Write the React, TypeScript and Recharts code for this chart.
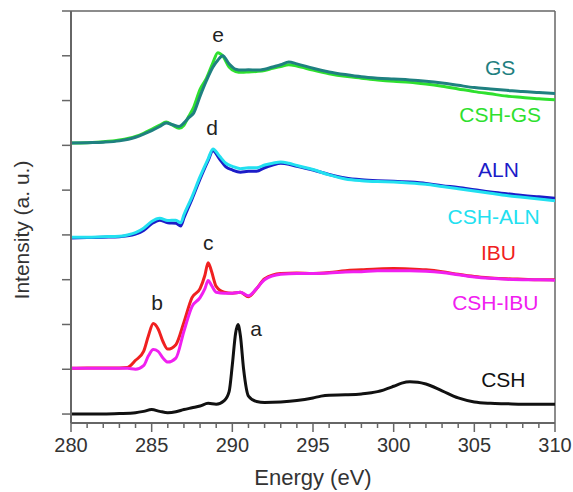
import { LineChart, Line, XAxis, YAxis, ReferenceLine, ReferenceDot } from "recharts";

// CSH (black)
const energyCsh = [280, 281, 282, 283, 284, 284.5, 285, 285.5, 286, 286.5, 287, 287.5, 288, 288.5, 289, 289.5, 289.8, 290, 290.2, 290.35, 290.5, 290.7, 291, 291.5, 292, 293, 294, 295, 295.5, 296, 297, 298, 299, 300, 300.5, 301, 301.5, 302, 303, 304, 305, 306, 307, 308, 309, 310];
const csh = [0, 0, 0, 0.01, 0.03, 0.06, 0.1, 0.06, 0.03, 0.05, 0.1, 0.14, 0.18, 0.24, 0.22, 0.3, 0.5, 1.1, 1.8, 2.0, 1.75, 1.0, 0.4, 0.28, 0.26, 0.27, 0.3, 0.36, 0.4, 0.42, 0.43, 0.45, 0.5, 0.62, 0.69, 0.72, 0.71, 0.67, 0.52, 0.36, 0.27, 0.24, 0.23, 0.22, 0.22, 0.22];

// IBU / CSH-IBU
const energyIbu = [280, 281, 282, 283, 283.5, 284, 284.5, 284.8, 285.1, 285.4, 285.7, 286, 286.5, 287, 287.5, 288, 288.3, 288.5, 288.7, 289, 289.5, 290, 290.5, 291, 291.5, 292, 293, 294, 295, 296, 297, 298, 299, 300, 301, 302, 303, 304, 305, 306, 307, 308, 309, 310];
const ibu = [1.02, 1.03, 1.03, 1.03, 1.04, 1.2, 1.4, 1.75, 2.02, 1.9, 1.62, 1.45, 1.55, 2.05, 2.6, 2.8, 3.1, 3.38, 3.2, 2.85, 2.72, 2.7, 2.72, 2.62, 2.8, 3.02, 3.14, 3.15, 3.14, 3.16, 3.2, 3.22, 3.24, 3.25, 3.24, 3.22, 3.18, 3.12, 3.07, 3.04, 3.02, 3.01, 3.0, 3.0];
const cshIbu = [1.02, 1.02, 1.02, 1.02, 1.02, 1.0, 1.08, 1.3, 1.44, 1.4, 1.25, 1.16, 1.25, 1.85, 2.4, 2.6, 2.8, 2.98, 2.88, 2.72, 2.7, 2.7, 2.72, 2.64, 2.8, 3.0, 3.12, 3.14, 3.14, 3.15, 3.17, 3.18, 3.2, 3.2, 3.2, 3.19, 3.16, 3.11, 3.06, 3.03, 3.01, 3.0, 3.0, 2.99];

// ALN / CSH-ALN
const energyAln = [280, 281, 282, 283, 283.5, 284, 284.5, 285, 285.5, 286, 286.5, 286.8, 287, 287.5, 288, 288.5, 288.8, 289.2, 289.6, 290, 290.5, 291, 291.5, 292, 292.5, 293, 293.5, 294, 295, 296, 297, 298, 299, 300, 301, 302, 303, 304, 305, 306, 307, 308, 309, 310];
const aln = [3.93, 3.94, 3.95, 3.96, 3.98, 4.02, 4.1, 4.25, 4.33, 4.27, 4.26, 4.2, 4.38, 4.8, 5.25, 5.66, 5.88, 5.7, 5.52, 5.45, 5.4, 5.42, 5.42, 5.5, 5.56, 5.6, 5.58, 5.53, 5.45, 5.35, 5.27, 5.23, 5.21, 5.2, 5.18, 5.15, 5.1, 5.06, 5.01, 4.96, 4.92, 4.88, 4.85, 4.82];
const cshAln = [3.95, 3.95, 3.96, 3.97, 4.0, 4.05, 4.15, 4.3, 4.37, 4.32, 4.33, 4.27, 4.45, 4.85, 5.3, 5.7, 5.92, 5.76, 5.6, 5.53, 5.48, 5.5, 5.5, 5.56, 5.6, 5.63, 5.6, 5.55, 5.46, 5.34, 5.25, 5.21, 5.19, 5.18, 5.16, 5.13, 5.08, 5.03, 4.98, 4.93, 4.88, 4.84, 4.8, 4.76];

// GS / CSH-GS
const energyGs = [280, 281, 282, 283, 284, 284.5, 285, 285.5, 285.9, 286.3, 286.7, 287, 287.3, 287.6, 288, 288.4, 288.8, 289.1, 289.4, 289.8, 290.2, 290.6, 291, 291.5, 292, 292.5, 293, 293.5, 294, 295, 296, 297, 298, 299, 300, 301, 302, 303, 304, 305, 306, 307, 308, 309, 310];
const gs = [6.05, 6.06, 6.07, 6.1, 6.18, 6.25, 6.33, 6.42, 6.5, 6.46, 6.42, 6.5, 6.62, 6.72, 7.1, 7.45, 7.75, 7.9, 8.0, 7.82, 7.7, 7.68, 7.69, 7.68, 7.7, 7.75, 7.8, 7.86, 7.82, 7.72, 7.64, 7.58, 7.53, 7.5, 7.48, 7.46, 7.43, 7.39, 7.34, 7.29, 7.26, 7.23, 7.2, 7.18, 7.16];
const cshGs = [6.05, 6.06, 6.08, 6.12, 6.2, 6.27, 6.36, 6.45, 6.52, 6.45, 6.38, 6.45, 6.65, 6.85, 7.25, 7.5, 7.85, 8.07, 8.0, 7.75, 7.65, 7.63, 7.64, 7.65, 7.67, 7.72, 7.76, 7.8, 7.77, 7.68, 7.6, 7.54, 7.5, 7.46, 7.43, 7.41, 7.37, 7.32, 7.26, 7.2, 7.15, 7.1, 7.07, 7.04, 7.02];

const xTicks = [280, 281, 282, 283, 284, 285, 286, 287, 288, 289, 290, 291, 292, 293, 294, 295, 296, 297, 298, 299, 300, 301, 302, 303, 304, 305, 306, 307, 308, 309, 310];
const yTicks = [0, 1, 2, 3, 4, 5, 6, 7, 8, 9];

// peak letters: [text, energy, intensity]
const peakLabels: [string, number, number][] = [
  ["a", 291.47, 1.9],
  ["b", 285.33, 2.48],
  ["c", 288.5, 3.84],
  ["d", 288.74, 6.39],
  ["e", 289.11, 8.47],
];
// curve names: [text, energy, intensity, colour]
const curveLabels: [string, number, number, string][] = [
  ["GS", 306.6, 7.73, "#1f8080"],
  ["CSH-GS", 306.6, 6.68, "#2ee02e"],
  ["ALN", 306.5, 5.45, "#1c1cc8"],
  ["CSH-ALN", 306.2, 4.4, "#22e0f0"],
  ["IBU", 306.5, 3.6, "#f02020"],
  ["CSH-IBU", 306.3, 2.48, "#f020f0"],
  ["CSH", 306.8, 0.76, "#111111"],
];

const pts = (xs: number[], ys: number[]) => xs.map((x, i) => ({ x, y: ys[i] }));

const AXIS = "#666";

function XTick({ x, y, payload }: any) {
  const major = payload.value % 5 === 0;
  return (
    <g>
      <line x1={x} x2={x} y1={y} y2={y + (major ? 9 : 5)} stroke={AXIS} strokeWidth={1.5} />
      {major && (
        <text x={x} y={y + 29} textAnchor="middle" fontSize={20} fill="#333">
          {payload.value}
        </text>
      )}
    </g>
  );
}

export default function App() {
  const series = [
    { name: "CSH", data: pts(energyCsh, csh), color: "#111111" },
    { name: "IBU", data: pts(energyIbu, ibu), color: "#f02020" },
    { name: "CSH-IBU", data: pts(energyIbu, cshIbu), color: "#f020f0" },
    { name: "ALN", data: pts(energyAln, aln), color: "#1c1cc8" },
    { name: "CSH-ALN", data: pts(energyAln, cshAln), color: "#22e0f0" },
    { name: "CSH-GS", data: pts(energyGs, cshGs), color: "#2ee02e" },
    { name: "GS", data: pts(energyGs, gs), color: "#1f8080" },
  ];

  return (
    <div style={{ position: "absolute", left: 0, top: 0, fontFamily: "'Liberation Sans', Arial, sans-serif" }}>
      <LineChart width={573} height={492} margin={{ top: 11, right: 18, left: 0, bottom: 0 }}>
        <XAxis
          type="number"
          dataKey="x"
          domain={[280, 310]}
          ticks={xTicks}
          interval={0}
          allowDataOverflow
          height={69}
          tickSize={0}
          tickMargin={0}
          tickLine={false}
          tick={<XTick />}
          axisLine={{ stroke: AXIS, strokeWidth: 2 }}
          label={{
            value: "Energy (eV)",
            content: () => (
              <text x={313} y={485} textAnchor="middle" fontSize={22} fill="#333">
                Energy (eV)
              </text>
            ),
          }}
        />
        <YAxis
          type="number"
          domain={[-0.2, 9]}
          ticks={yTicks}
          allowDataOverflow
          width={71}
          tickSize={9}
          tickFormatter={() => ""}
          tickLine={{ stroke: AXIS, strokeWidth: 1.5 }}
          axisLine={{ stroke: AXIS, strokeWidth: 2 }}
          label={{
            value: "Intensity (a. u.)",
            content: () => (
              <text x={29} y={230} transform="rotate(-90 29 230)" textAnchor="middle" fontSize={21} fill="#333">
                Intensity (a. u.)
              </text>
            ),
          }}
        />
        <ReferenceLine y={9} stroke={AXIS} strokeWidth={1.5} />
        <ReferenceLine x={310} stroke={AXIS} strokeWidth={1.5} />
        {series.map((s) => (
          <Line
            key={s.name}
            data={s.data}
            dataKey="y"
            type="monotone"
            stroke={s.color}
            strokeWidth={3}
            dot={false}
            isAnimationActive={false}
          />
        ))}
        {peakLabels.map(([t, x, y]) => (
          <ReferenceDot
            key={t}
            x={x}
            y={y}
            r={0}
            stroke="none"
            label={{ value: t, position: "center", fontSize: 21, fill: "#222" }}
          />
        ))}
        {curveLabels.map(([t, x, y, c]) => (
          <ReferenceDot
            key={t}
            x={x}
            y={y}
            r={0}
            stroke="none"
            label={{ value: t, position: "center", fontSize: 21, fill: c }}
          />
        ))}
      </LineChart>
    </div>
  );
}
